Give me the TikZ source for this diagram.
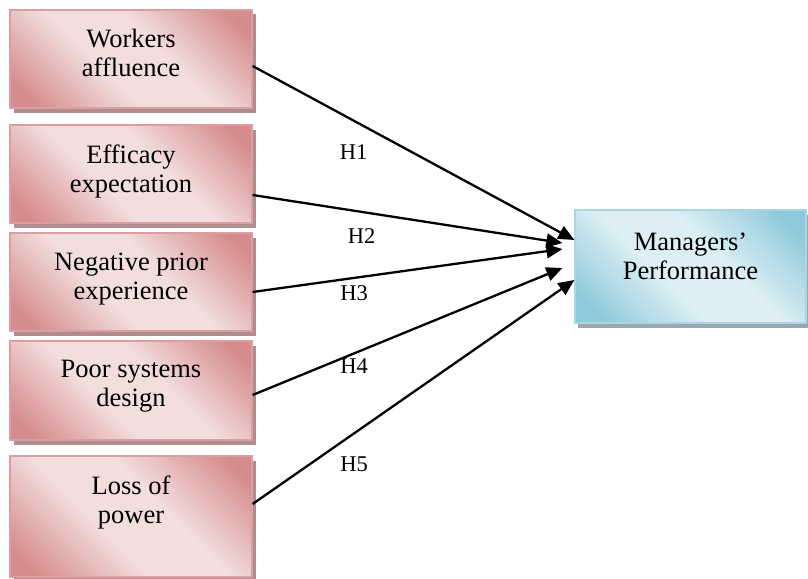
\documentclass[tikz,border=0pt]{standalone}
\usepackage{fontspec}
\setmainfont{Liberation Serif}
\usetikzlibrary{arrows.meta,shadows}

\definecolor{pinkdark}{HTML}{D68C8C}
\definecolor{pinklight}{HTML}{F3DEDE}
\definecolor{pinkedge}{HTML}{DC9FA1}
\definecolor{pinkshadow}{HTML}{B08C8E}
\definecolor{bluedark}{HTML}{8CC9DA}
\definecolor{bluelight}{HTML}{DDEFF4}
\definecolor{blueedge}{HTML}{A8D6E3}
\definecolor{blueshadow}{HTML}{9AA9AF}

% dark top-right and bottom-left corners, broad light band between them
\pgfdeclareverticalshading{pinkdiag}{100bp}{color(0bp)=(pinkdark);
  color(20bp)=(pinkdark); color(42bp)=(pinklight); color(58bp)=(pinklight);
  color(80bp)=(pinkdark); color(100bp)=(pinkdark)}
\pgfdeclareverticalshading{bluediag}{100bp}{color(0bp)=(bluedark);
  color(20bp)=(bluedark); color(42bp)=(bluelight); color(58bp)=(bluelight);
  color(80bp)=(bluedark); color(100bp)=(bluedark)}

\begin{document}
\begin{tikzpicture}[x=1pt,y=-1pt,
  factor/.style={rectangle, draw=pinkedge, line width=1.2pt,
    shading=pinkdiag, shading angle=-45, minimum width=242pt, inner sep=0pt,
    drop shadow={shadow xshift=3.5pt, shadow yshift=-4.5pt,
      fill=pinkshadow, opacity=1}},
  outcome/.style={rectangle, draw=blueedge, line width=1.2pt,
    shading=bluediag, shading angle=-45, minimum width=231pt,
    minimum height=113pt, inner sep=0pt,
    drop shadow={shadow xshift=3pt, shadow yshift=-4.5pt,
      fill=blueshadow, opacity=1}},
  boxtext/.style={anchor=north, align=center, inner sep=0pt,
    font=\fontsize{26.5}{29}\selectfont},
  hyp/.style={anchor=base, inner sep=0pt,
    font=\fontsize{22.5}{27}\selectfont},
  link/.style={line width=2.3pt, -{Triangle[length=16pt,width=14pt]}}
]
\useasboundingbox (0,0) rectangle (808,578);

% antecedent factors
\node[factor, minimum height=98pt] (b1) at (131,59) {};
\node[factor, minimum height=98pt] (b2) at (131,174) {};
\node[factor, minimum height=98pt] (b3) at (131,282) {};
\node[factor, minimum height=99pt] (b4) at (131,390.5) {};
\node[factor, minimum height=121pt] (b5) at (131,516.5) {};

\node[boxtext] (t1) at ([yshift=-20pt]b1.north) {Workers\\affluence};
\node[boxtext] (t2) at ([yshift=-20pt]b2.north) {Efficacy\\expectation};
\node[boxtext] (t3) at ([yshift=-20pt]b3.north) {Negative prior\\experience};
\node[boxtext] (t4) at ([yshift=-20pt]b4.north) {Poor systems\\design};
\node[boxtext] (t5) at ([yshift=-20pt]b5.north) {Loss of\\power};

% outcome
\node[outcome] (m) at (690.5,266.5) {};
\node[boxtext] (tm) at ([yshift=-23pt]m.north) {Managers’\\Performance};

% arrow ends near the outcome box
\coordinate (e1) at ([yshift=26.5pt]m.west);
\coordinate (e2) at ([xshift=-12pt,yshift=23.5pt]m.west);
\coordinate (e3) at ([xshift=-12pt,yshift=17.5pt]m.west);
\coordinate (e4) at ([xshift=-12pt,yshift=-1.5pt]m.west);
\coordinate (e5) at ([yshift=-13.5pt]m.west);

\draw[link] ([yshift=-7pt]b1.east) -- (e1);
\draw[link] ([yshift=-21pt]b2.east) -- (e2);
\draw[link] ([yshift=-10pt]b3.east) -- (e3);
\draw[link] ([yshift=-4.5pt]b4.east) -- (e4);
\draw[link] ([yshift=12.5pt]b5.east) -- (e5);

% hypothesis labels
\node[hyp] (h1) at (353.5,159) {H1};
\node[hyp] (h2) at (361.5,243) {H2};
\node[hyp] (h3) at (354,300) {H3};
\node[hyp] (h4) at (354,373) {H4};
\node[hyp] (h5) at (354,471) {H5};
\end{tikzpicture}
\end{document}
